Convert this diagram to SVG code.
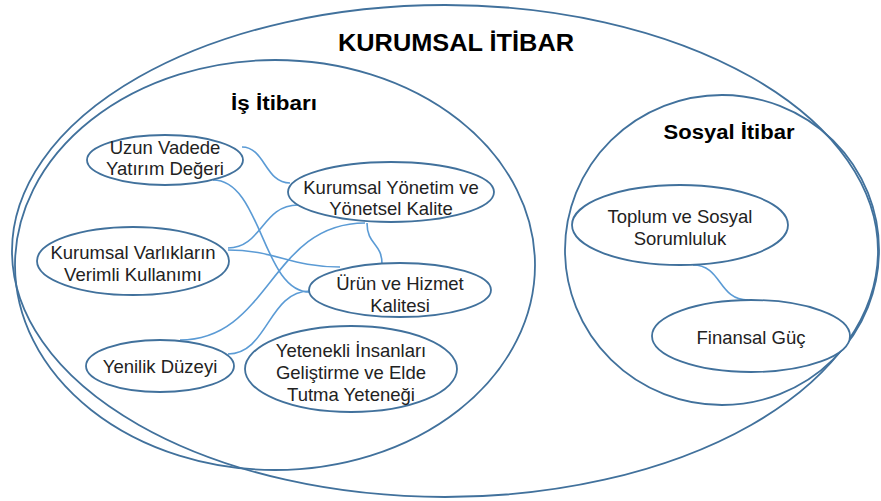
<svg xmlns="http://www.w3.org/2000/svg" width="881" height="501" viewBox="0 0 881 501">
<style>
.big{fill:none;stroke:#41719C;stroke-width:1.8}
.node{fill:#fff;stroke:#41719C;stroke-width:1.8}
.con{fill:none;stroke:#5B9BD5;stroke-width:1.6}
.t{font-family:"Liberation Sans",Arial,sans-serif;font-size:18.5px;fill:#222;text-anchor:middle;dominant-baseline:central}
.h{font-family:"Liberation Sans",Arial,sans-serif;font-weight:bold;fill:#000;text-anchor:middle;dominant-baseline:central}
</style>
<rect width="881" height="501" fill="#fff"/>
<g id="kurumsal-itibar">
<ellipse class="big" cx="445" cy="251" rx="433" ry="246"/>
<text class="h" x="456" y="42" font-size="24" textLength="236" lengthAdjust="spacingAndGlyphs">KURUMSAL İTİBAR</text>
</g>
<g id="is-itibari">
<ellipse class="big" cx="275" cy="265" rx="260" ry="205"/>
<text class="h" x="274" y="103" font-size="20" textLength="86" lengthAdjust="spacingAndGlyphs">İş İtibarı</text>
</g>
<g id="sosyal-itibar">
<ellipse class="big" cx="722" cy="250" rx="157" ry="155"/>
<text class="h" x="729" y="132" font-size="20" textLength="131" lengthAdjust="spacingAndGlyphs">Sosyal İtibar</text>
</g>
<g id="connectors">
<path class="con" d="M242,147 C265,147 265,183 290,183"/>
<path class="con" d="M213,180 C262,180 262,292 310,292"/>
<path class="con" d="M228,248 C262,248 262,205 298,205"/>
<path class="con" d="M228,250 C275,250 290,267 340,267"/>
<path class="con" d="M367,223 C367,245 382,243 382,264"/>
<path class="con" d="M180,340 C270,340 270,223 365,223"/>
<path class="con" d="M228,354 C268,354 268,291 310,291"/>
<path class="con" d="M693,265 C722,265 718,300 748,300"/>
</g>
<g id="uzun-vadede">
<ellipse class="node" cx="165" cy="160" rx="78" ry="25"/>
<text class="t"><tspan x="165" y="147">Uzun Vadede</tspan><tspan x="165" y="168">Yatırım Değeri</tspan></text>
</g>
<g id="kurumsal-yonetim">
<ellipse class="node" cx="391" cy="192" rx="103" ry="30"/>
<text class="t"><tspan x="391" y="187">Kurumsal Yönetim ve</tspan><tspan x="391" y="208">Yönetsel Kalite</tspan></text>
</g>
<g id="kurumsal-varliklar">
<ellipse class="node" cx="133" cy="261" rx="96" ry="34"/>
<text class="t"><tspan x="133" y="252">Kurumsal Varlıkların</tspan><tspan x="133" y="274">Verimli Kullanımı</tspan></text>
</g>
<g id="urun-hizmet">
<ellipse class="node" cx="400" cy="290" rx="91" ry="27"/>
<text class="t"><tspan x="400" y="283">Ürün ve Hizmet</tspan><tspan x="400" y="305">Kalitesi</tspan></text>
</g>
<g id="yenilik">
<ellipse class="node" cx="160" cy="366" rx="74" ry="26"/>
<text class="t" x="160" y="366">Yenilik Düzeyi</text>
</g>
<g id="yetenekli">
<ellipse class="node" cx="351" cy="369" rx="106" ry="43"/>
<text class="t"><tspan x="351" y="350">Yetenekli İnsanları</tspan><tspan x="351" y="372">Geliştirme ve Elde</tspan><tspan x="351" y="394">Tutma Yeteneği</tspan></text>
</g>
<g id="toplum">
<ellipse class="node" cx="680" cy="225" rx="108" ry="40"/>
<text class="t"><tspan x="680" y="216">Toplum ve Sosyal</tspan><tspan x="680" y="238">Sorumluluk</tspan></text>
</g>
<g id="finansal">
<ellipse class="node" cx="751" cy="336" rx="99" ry="36"/>
<text class="t" x="751" y="337">Finansal Güç</text>
</g>
</svg>
